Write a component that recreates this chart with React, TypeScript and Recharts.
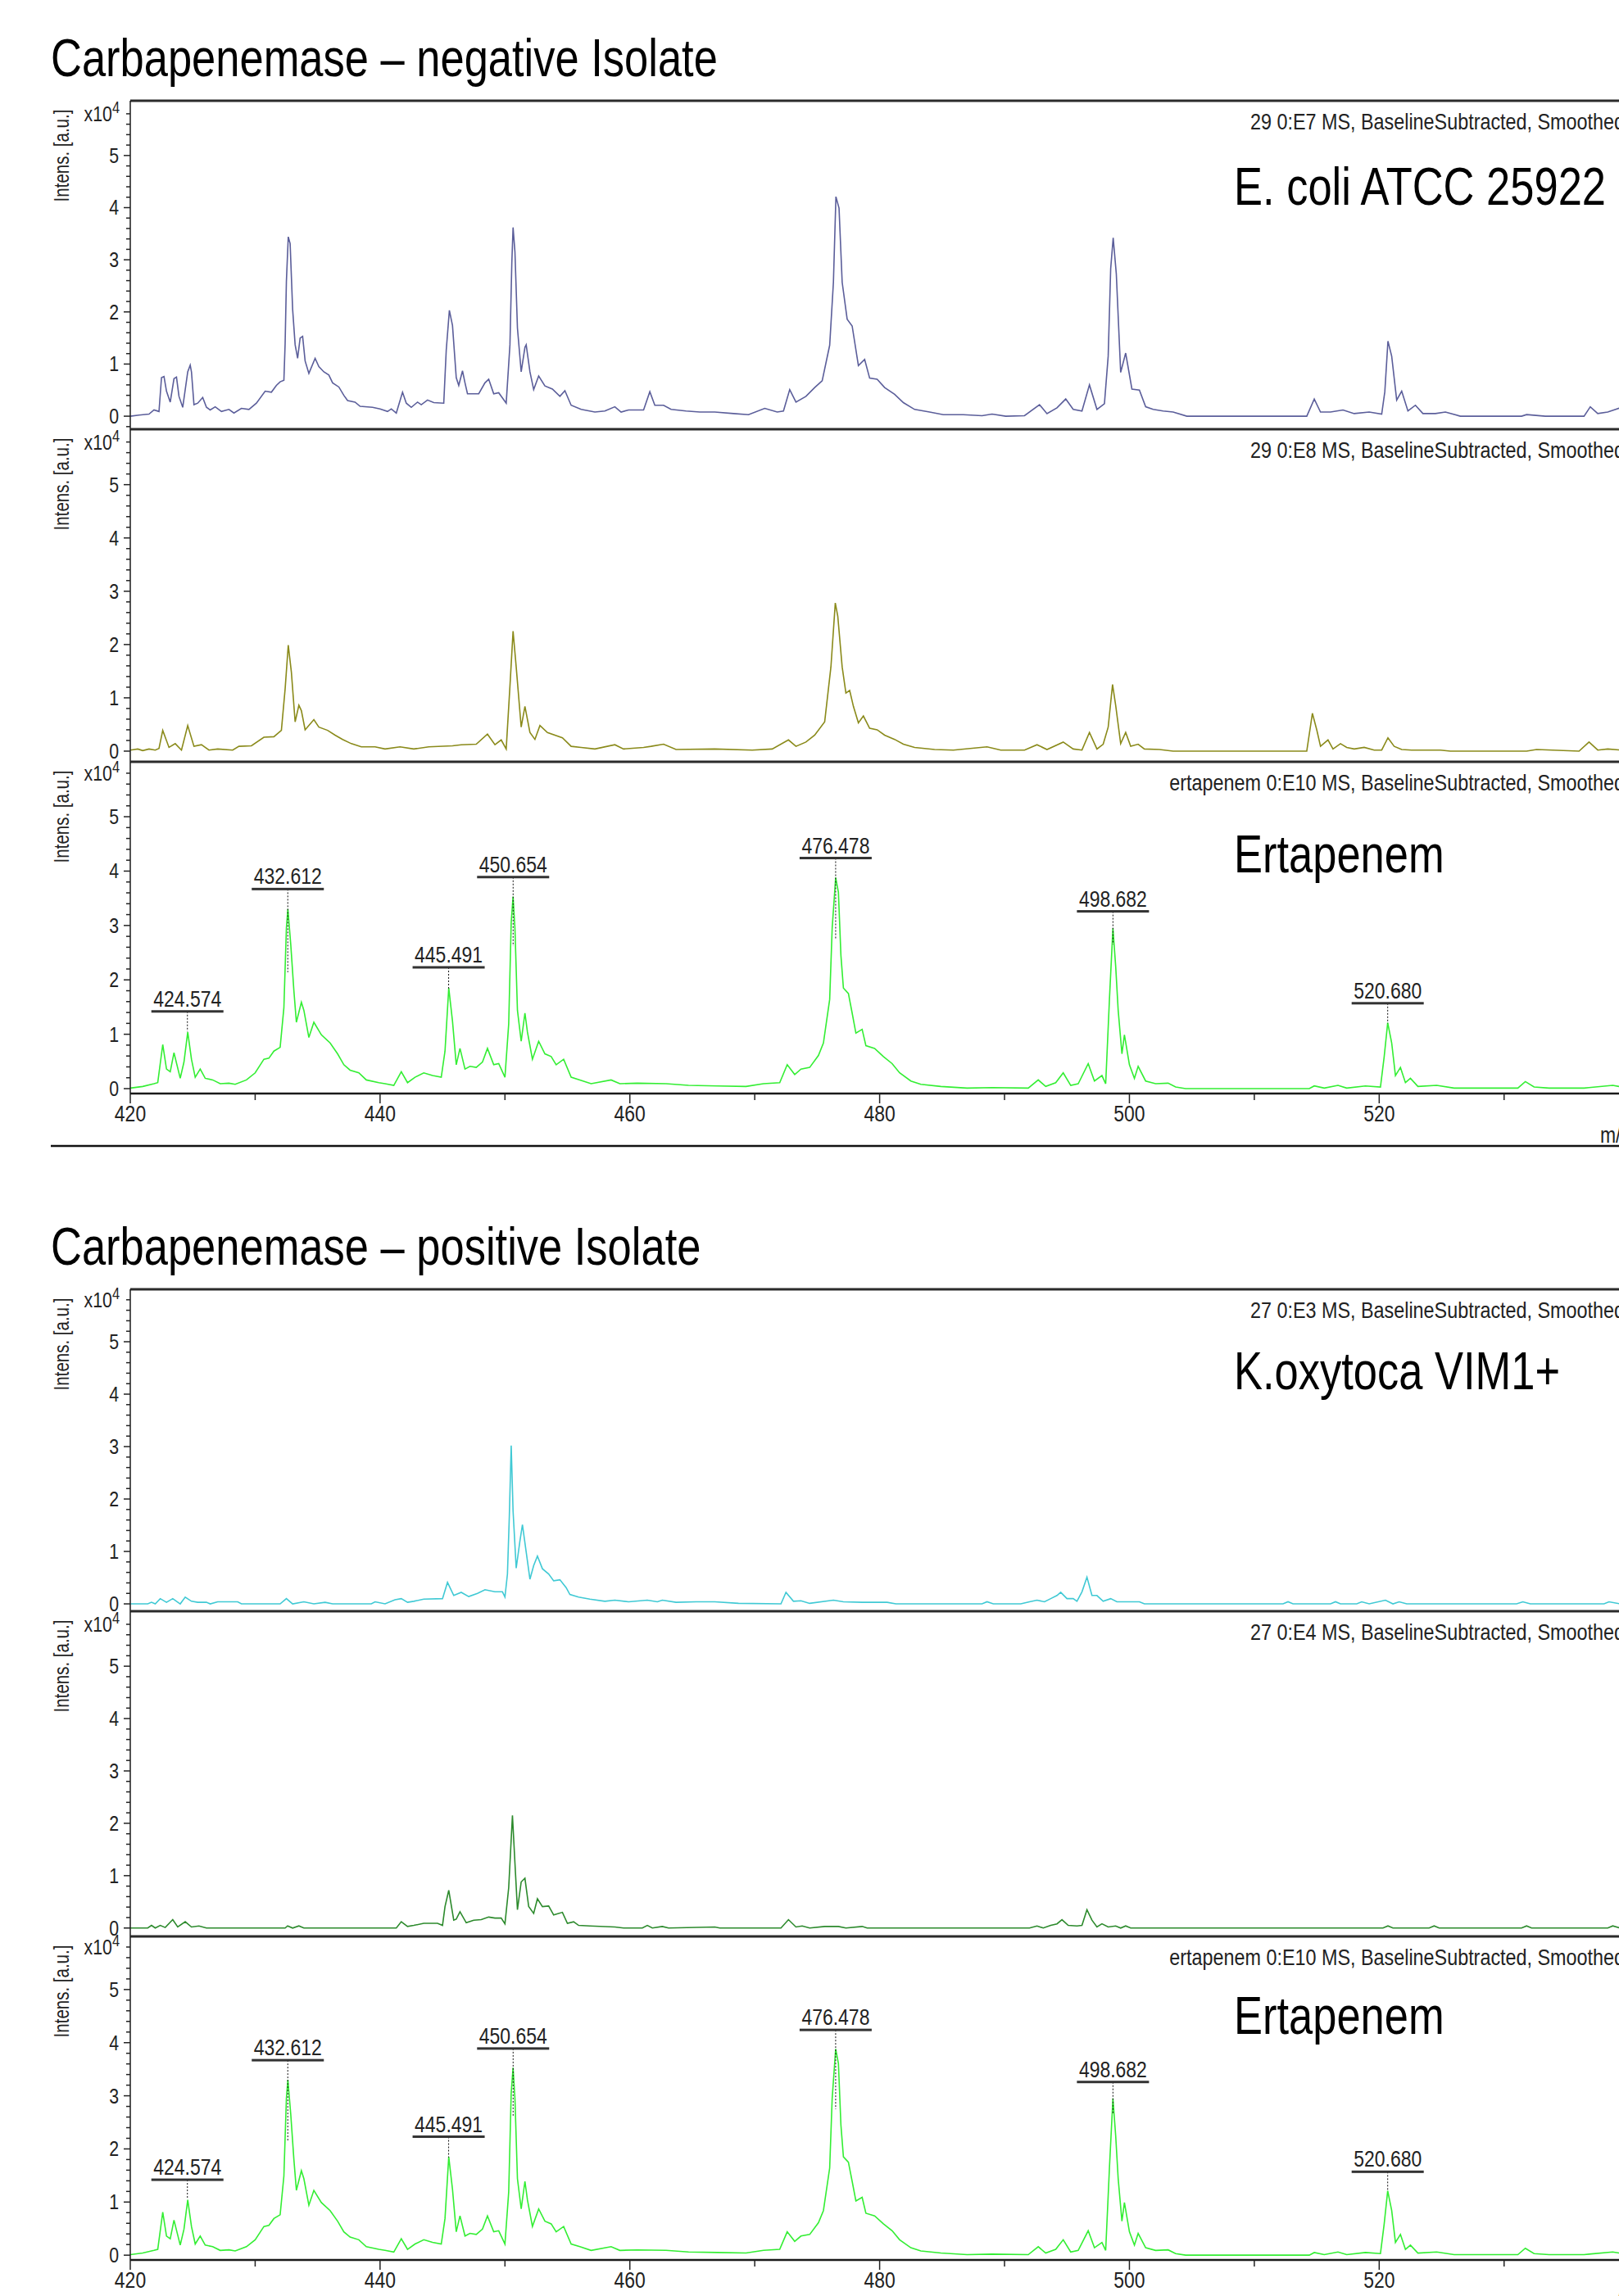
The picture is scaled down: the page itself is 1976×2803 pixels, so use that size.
import React from "react";
import { LineChart, Line, XAxis, YAxis, ReferenceLine, ReferenceDot } from "recharts";

const FONT = "'Liberation Sans', Arial, sans-serif";
const NARROW = 0.82;

// [m/z, intensity x10^4]
const ecoliE7: [number, number][] = [
  [420.0, 0.0], [420.7, 0.02], [421.5, 0.04], [421.9, 0.12], [422.3, 0.09], [422.5, 0.74], [422.7, 0.76], [422.9, 0.48],
  [423.2, 0.27], [423.5, 0.72], [423.7, 0.75], [423.9, 0.38], [424.2, 0.17], [424.6, 0.85], [424.8, 0.98], [424.9, 0.85],
  [425.1, 0.22], [425.4, 0.25], [425.8, 0.36], [426.1, 0.17], [426.4, 0.12], [426.8, 0.18], [427.3, 0.09], [427.9, 0.13],
  [428.3, 0.06], [428.9, 0.15], [429.5, 0.13], [430.1, 0.25], [430.8, 0.48], [431.3, 0.46], [431.7, 0.59], [432.0, 0.66],
  [432.3, 0.69], [432.4, 1.4], [432.5, 2.58], [432.65, 3.44], [432.8, 3.31], [433.0, 2.05], [433.2, 1.37], [433.4, 1.11],
  [433.6, 1.5], [433.8, 1.53], [434.0, 1.06], [434.3, 0.82], [434.8, 1.11], [435.1, 0.95], [435.5, 0.85], [435.9, 0.79],
  [436.2, 0.64], [436.7, 0.56], [437.1, 0.4], [437.4, 0.3], [438.0, 0.27], [438.4, 0.19], [439.4, 0.17], [440.0, 0.14],
  [440.6, 0.09], [440.9, 0.14], [441.3, 0.06], [441.8, 0.46], [442.1, 0.25], [442.5, 0.17], [443.0, 0.27], [443.3, 0.22],
  [443.8, 0.31], [444.3, 0.26], [445.1, 0.25], [445.3, 1.27], [445.55, 2.03], [445.8, 1.74], [446.1, 0.74], [446.3, 0.59],
  [446.6, 0.87], [446.8, 0.64], [447.0, 0.43], [447.5, 0.43], [447.9, 0.43], [448.4, 0.64], [448.7, 0.71], [449.1, 0.43],
  [449.5, 0.45], [450.1, 0.25], [450.4, 1.37], [450.55, 2.94], [450.65, 3.62], [450.8, 3.15], [451.0, 1.69], [451.3, 0.85],
  [451.6, 1.32], [451.7, 1.37], [452.0, 0.85], [452.3, 0.51], [452.7, 0.77], [453.2, 0.58], [453.8, 0.52], [454.4, 0.38],
  [454.8, 0.49], [455.3, 0.21], [456.1, 0.13], [457.2, 0.08], [458.0, 0.1], [458.8, 0.18], [459.3, 0.08], [459.9, 0.12],
  [461.1, 0.12], [461.6, 0.47], [462.0, 0.21], [462.7, 0.21], [463.3, 0.13], [464.5, 0.1], [465.6, 0.08], [466.8, 0.08],
  [468.3, 0.05], [469.5, 0.03], [470.8, 0.15], [471.8, 0.08], [472.3, 0.1], [472.8, 0.51], [473.3, 0.27], [474.1, 0.38],
  [474.8, 0.55], [475.4, 0.68], [476.0, 1.36], [476.3, 2.57], [476.5, 4.21], [476.75, 3.99], [477.0, 2.57], [477.4, 1.86],
  [477.8, 1.73], [478.3, 0.97], [478.8, 1.09], [479.2, 0.73], [479.8, 0.71], [480.4, 0.55], [481.2, 0.42], [481.9, 0.26],
  [482.8, 0.13], [484.0, 0.08], [485.1, 0.03], [486.7, 0.03], [488.2, 0.01], [489.0, 0.04], [490.1, 0.0], [491.6, 0.01],
  [492.8, 0.22], [493.4, 0.05], [494.2, 0.16], [494.9, 0.33], [495.5, 0.13], [496.2, 0.1], [496.8, 0.6], [497.4, 0.13],
  [498.0, 0.24], [498.3, 1.15], [498.5, 2.83], [498.7, 3.42], [498.95, 2.73], [499.3, 0.84], [499.7, 1.21], [500.2, 0.52],
  [500.8, 0.5], [501.3, 0.18], [501.9, 0.13], [502.7, 0.1], [503.5, 0.08], [504.6, 0.0], [514.2, 0.0], [514.8, 0.33],
  [515.3, 0.08], [516.1, 0.08], [517.1, 0.12], [518.0, 0.05], [519.2, 0.08], [520.2, 0.04], [520.45, 0.47], [520.7, 1.44],
  [521.0, 1.15], [521.4, 0.31], [521.8, 0.48], [522.3, 0.1], [522.9, 0.21], [523.5, 0.05], [524.5, 0.05], [525.3, 0.08],
  [526.5, 0.0], [531.4, 0.0], [531.8, 0.03], [533.3, 0.0], [536.4, 0.0], [536.9, 0.18], [537.5, 0.05], [538.3, 0.08],
  [539.3, 0.16],
];

const ecoliE8: [number, number][] = [
  [420.0, 0.02], [420.6, 0.04], [421.0, 0.01], [421.5, 0.04], [422.0, 0.02], [422.3, 0.05], [422.6, 0.39], [423.1, 0.07],
  [423.6, 0.14], [424.1, 0.02], [424.6, 0.48], [425.1, 0.09], [425.7, 0.12], [426.3, 0.02], [427.0, 0.04], [428.2, 0.02],
  [428.7, 0.09], [429.7, 0.1], [430.7, 0.26], [431.5, 0.27], [432.1, 0.39], [432.4, 1.17], [432.65, 1.99], [432.9, 1.48],
  [433.2, 0.55], [433.5, 0.86], [433.7, 0.76], [434.0, 0.4], [434.7, 0.59], [435.1, 0.45], [435.8, 0.39], [436.4, 0.3],
  [437.0, 0.22], [437.7, 0.14], [438.5, 0.08], [439.6, 0.08], [440.4, 0.04], [441.6, 0.08], [442.7, 0.04], [443.9, 0.08],
  [445.8, 0.1], [446.5, 0.12], [447.7, 0.13], [448.6, 0.32], [449.2, 0.12], [449.7, 0.21], [450.1, 0.04], [450.4, 1.22],
  [450.65, 2.25], [450.9, 1.58], [451.3, 0.45], [451.6, 0.84], [452.0, 0.35], [452.4, 0.22], [452.8, 0.48], [453.4, 0.35],
  [454.6, 0.25], [455.3, 0.09], [456.1, 0.07], [457.2, 0.04], [458.8, 0.12], [459.5, 0.04], [461.1, 0.07], [461.7, 0.09],
  [462.7, 0.13], [463.7, 0.03], [466.8, 0.04], [469.8, 0.02], [471.4, 0.04], [472.7, 0.21], [473.3, 0.09], [474.1, 0.17],
  [474.8, 0.3], [475.6, 0.55], [476.1, 1.58], [476.45, 2.78], [476.65, 2.53], [477.0, 1.58], [477.3, 1.09], [477.6, 1.14],
  [477.9, 0.84], [478.3, 0.53], [478.7, 0.66], [479.2, 0.43], [479.8, 0.4], [480.4, 0.3], [481.2, 0.22], [481.9, 0.13],
  [482.8, 0.07], [484.4, 0.03], [485.9, 0.02], [488.6, 0.08], [489.7, 0.02], [491.6, 0.02], [492.6, 0.12], [493.4, 0.03],
  [494.7, 0.17], [495.5, 0.04], [496.2, 0.02], [496.8, 0.35], [497.4, 0.04], [497.9, 0.13], [498.3, 0.45], [498.65, 1.25],
  [498.9, 0.86], [499.3, 0.14], [499.7, 0.35], [500.1, 0.09], [500.7, 0.13], [501.2, 0.04], [502.4, 0.03], [503.5, 0.0],
  [514.2, 0.0], [514.65, 0.71], [515.0, 0.4], [515.3, 0.09], [515.9, 0.21], [516.3, 0.04], [516.9, 0.14], [517.4, 0.07],
  [518.0, 0.04], [518.8, 0.07], [519.6, 0.02], [520.2, 0.02], [520.7, 0.25], [521.2, 0.09], [521.8, 0.03], [522.6, 0.02],
  [524.9, 0.02], [525.7, 0.0], [531.8, 0.0], [532.6, 0.03], [536.0, 0.0], [536.8, 0.17], [537.5, 0.02], [538.3, 0.04],
  [539.3, 0.02],
];

const ertapenemE10: [number, number][] = [
  [420.0, 0.01], [421.0, 0.04], [421.9, 0.09], [422.2, 0.11], [422.6, 0.81], [422.9, 0.36], [423.2, 0.31], [423.5, 0.66],
  [424.0, 0.19], [424.3, 0.49], [424.6, 1.04], [424.9, 0.54], [425.2, 0.21], [425.6, 0.36], [426.0, 0.19], [426.6, 0.16],
  [427.2, 0.09], [427.9, 0.1], [428.4, 0.08], [429.3, 0.16], [430.0, 0.29], [430.7, 0.54], [431.1, 0.56], [431.5, 0.69],
  [432.0, 0.76], [432.3, 1.49], [432.5, 2.95], [432.62, 3.3], [432.85, 2.65], [433.1, 1.8], [433.3, 1.22], [433.7, 1.59],
  [433.9, 1.44], [434.3, 0.94], [434.7, 1.22], [435.3, 0.99], [436.0, 0.84], [436.6, 0.64], [437.1, 0.44], [437.6, 0.34],
  [438.3, 0.29], [438.9, 0.16], [439.9, 0.11], [440.4, 0.09], [441.1, 0.06], [441.7, 0.31], [442.2, 0.11], [442.8, 0.21],
  [443.5, 0.29], [444.2, 0.24], [444.9, 0.21], [445.2, 0.69], [445.5, 1.85], [445.8, 1.24], [446.1, 0.44], [446.4, 0.74],
  [446.8, 0.36], [447.2, 0.41], [447.7, 0.39], [448.2, 0.49], [448.6, 0.74], [449.1, 0.44], [449.5, 0.46], [450.0, 0.21],
  [450.3, 1.19], [450.5, 3.05], [450.65, 3.53], [450.8, 2.95], [451.0, 1.44], [451.3, 0.87], [451.6, 1.39], [451.8, 1.04],
  [452.2, 0.54], [452.7, 0.87], [453.2, 0.64], [453.7, 0.59], [454.1, 0.44], [454.7, 0.54], [455.3, 0.21], [456.0, 0.16],
  [456.9, 0.09], [458.5, 0.16], [459.2, 0.09], [460.6, 0.1], [462.9, 0.09], [464.7, 0.06], [467.0, 0.05], [469.3, 0.04],
  [470.7, 0.09], [472.0, 0.11], [472.6, 0.44], [473.2, 0.26], [473.7, 0.36], [474.4, 0.39], [475.1, 0.61], [475.5, 0.84],
  [476.0, 1.64], [476.2, 2.95], [476.48, 3.88], [476.7, 3.61], [476.9, 2.45], [477.1, 1.85], [477.5, 1.75], [477.8, 1.39],
  [478.1, 1.02], [478.6, 1.09], [478.9, 0.79], [479.6, 0.74], [480.3, 0.59], [481.0, 0.46], [481.6, 0.29], [482.5, 0.14],
  [483.3, 0.08], [484.9, 0.04], [487.0, 0.01], [489.0, 0.02], [491.9, 0.01], [492.7, 0.16], [493.3, 0.04], [494.1, 0.11],
  [494.7, 0.29], [495.3, 0.06], [495.9, 0.09], [496.7, 0.46], [497.2, 0.14], [497.8, 0.24], [498.1, 0.09], [498.4, 1.64],
  [498.68, 2.95], [498.9, 2.25], [499.1, 1.44], [499.4, 0.64], [499.6, 0.99], [500.0, 0.44], [500.4, 0.19], [500.7, 0.41],
  [501.3, 0.14], [502.1, 0.09], [503.1, 0.1], [503.7, 0.03], [504.5, 0.0], [514.4, 0.0], [514.8, 0.05], [515.6, 0.01],
  [516.7, 0.06], [517.4, 0.01], [518.9, 0.05], [520.1, 0.03], [520.4, 0.59], [520.68, 1.21], [521.0, 0.84], [521.3, 0.24],
  [521.7, 0.39], [522.1, 0.11], [522.5, 0.19], [523.1, 0.04], [524.6, 0.06], [526.0, 0.01], [531.1, 0.01], [531.7, 0.13],
  [532.4, 0.03], [533.6, 0.01], [536.4, 0.01], [536.8, 0.02], [538.7, 0.06], [539.2, 0.04],
];

const koxyE3: [number, number][] = [
  [420.0, 0.0], [421.4, 0.0], [421.7, 0.03], [422.0, 0.0], [422.4, 0.1], [422.9, 0.03], [423.4, 0.1], [424.0, 0.0],
  [424.4, 0.13], [424.9, 0.05], [425.4, 0.03], [426.1, 0.03], [426.4, 0.0], [427.0, 0.04], [428.6, 0.04], [428.9, 0.0],
  [432.0, 0.0], [432.5, 0.1], [433.0, 0.0], [433.9, 0.04], [434.7, 0.0], [435.6, 0.03], [436.2, 0.0], [439.3, 0.0],
  [439.6, 0.04], [440.4, 0.0], [441.2, 0.08], [441.7, 0.1], [442.2, 0.03], [442.7, 0.05], [443.5, 0.09], [445.0, 0.1],
  [445.4, 0.41], [445.9, 0.16], [446.5, 0.22], [447.1, 0.14], [447.8, 0.2], [448.4, 0.27], [449.2, 0.23], [449.8, 0.23],
  [450.0, 0.13], [450.2, 0.57], [450.35, 1.67], [450.5, 3.02], [450.65, 1.77], [450.9, 0.68], [451.2, 1.2], [451.4, 1.51],
  [451.7, 0.99], [452.0, 0.47], [452.3, 0.73], [452.6, 0.91], [453.0, 0.67], [453.5, 0.57], [453.9, 0.44], [454.4, 0.46],
  [454.9, 0.31], [455.2, 0.18], [455.9, 0.13], [456.8, 0.09], [458.0, 0.05], [458.8, 0.07], [459.9, 0.04], [461.4, 0.07],
  [462.2, 0.04], [462.6, 0.07], [463.7, 0.03], [465.3, 0.04], [466.8, 0.04], [468.7, 0.01], [472.1, 0.0], [472.5, 0.22],
  [473.1, 0.05], [473.7, 0.06], [474.4, 0.01], [476.3, 0.07], [477.1, 0.04], [478.6, 0.03], [480.6, 0.03], [481.3, 0.0],
  [488.2, 0.0], [488.6, 0.04], [489.1, 0.0], [491.3, 0.0], [492.0, 0.04], [492.6, 0.07], [493.2, 0.04], [493.7, 0.1],
  [494.2, 0.16], [494.5, 0.22], [495.0, 0.1], [495.5, 0.1], [495.8, 0.05], [496.2, 0.23], [496.6, 0.51], [497.0, 0.16],
  [497.4, 0.16], [497.9, 0.05], [498.5, 0.1], [499.0, 0.04], [500.8, 0.04], [501.2, 0.0], [512.3, 0.0], [512.7, 0.04],
  [513.1, 0.0], [516.1, 0.0], [516.5, 0.04], [516.9, 0.0], [518.2, 0.0], [518.6, 0.04], [519.2, 0.0], [520.5, 0.07],
  [521.1, 0.0], [521.6, 0.04], [522.2, 0.0], [531.0, 0.0], [531.5, 0.04], [532.1, 0.0], [538.0, 0.0], [538.4, 0.04],
  [539.3, 0.0],
];

const koxyE4: [number, number][] = [
  [420.0, 0.0], [421.4, 0.0], [421.7, 0.05], [422.0, 0.0], [422.4, 0.05], [422.8, 0.01], [423.4, 0.16], [423.8, 0.02],
  [424.4, 0.12], [424.9, 0.02], [425.5, 0.04], [426.1, 0.0], [432.4, 0.0], [432.6, 0.04], [433.0, 0.0], [433.5, 0.04],
  [433.9, 0.0], [441.3, 0.0], [441.7, 0.12], [442.2, 0.03], [442.7, 0.05], [443.5, 0.09], [444.6, 0.09], [445.0, 0.05],
  [445.2, 0.41], [445.5, 0.72], [445.9, 0.15], [446.1, 0.17], [446.4, 0.31], [446.9, 0.1], [447.5, 0.15], [448.1, 0.16],
  [448.7, 0.21], [449.2, 0.19], [449.7, 0.19], [450.0, 0.08], [450.3, 0.77], [450.6, 2.15], [450.8, 1.24], [451.0, 0.35],
  [451.3, 0.88], [451.6, 0.95], [451.9, 0.41], [452.3, 0.28], [452.6, 0.56], [453.0, 0.41], [453.5, 0.42], [453.9, 0.25],
  [454.6, 0.3], [455.0, 0.09], [455.5, 0.12], [455.9, 0.05], [456.8, 0.04], [458.8, 0.02], [459.5, 0.0], [461.0, 0.0],
  [461.4, 0.05], [461.8, 0.0], [462.6, 0.03], [463.1, 0.0], [466.8, 0.02], [467.2, 0.0], [472.1, 0.0], [472.7, 0.16],
  [473.3, 0.02], [473.8, 0.04], [474.4, 0.0], [475.6, 0.03], [476.7, 0.03], [477.3, 0.0], [478.6, 0.03], [479.0, 0.0],
  [492.0, 0.0], [492.6, 0.04], [493.1, 0.0], [493.7, 0.05], [494.2, 0.08], [494.6, 0.16], [495.1, 0.05], [495.8, 0.04],
  [496.2, 0.05], [496.6, 0.35], [497.0, 0.15], [497.4, 0.02], [497.8, 0.08], [498.3, 0.02], [498.9, 0.04], [499.3, 0.0],
  [499.7, 0.04], [500.1, 0.0], [520.3, 0.0], [520.7, 0.04], [521.1, 0.0], [524.0, 0.0], [524.4, 0.04], [524.8, 0.0],
  [531.4, 0.0], [531.8, 0.04], [532.2, 0.0], [538.3, 0.0], [538.7, 0.04], [539.3, 0.0],
];

// labelled peaks of the ertapenem spectrum: m/z, label bar level, end of the dotted drop line
const peakMz = [424.574, 432.612, 445.491, 450.654, 476.478, 498.682, 520.68];
const peakBar = [1.42, 3.67, 2.23, 3.89, 4.24, 3.26, 1.57];
const peakDotEnd = [1.05, 2.14, 1.84, 2.62, 2.75, 2.65, 1.2];

const xTicks = [420, 430, 440, 450, 460, 470, 480, 490, 500, 510, 520, 530];
const yTicks = [
  -0.2, 0, 0.2, 0.4, 0.6, 0.8, 1, 1.2, 1.4, 1.6, 1.8, 2, 2.2, 2.4, 2.6, 2.8, 3, 3.2, 3.4, 3.6, 3.8, 4,
  4.2, 4.4, 4.6, 4.8, 5, 5.2, 5.4, 5.6, 5.8,
];

const X_MAX = 539.2;

const panels = [
  { data: ecoliE7, color: "#5b5e9a", top: 123, bottom: 524, yMin: -0.25, yMax: 6.05, header: "29 0:E7 MS, BaselineSubtracted, Smoothed" },
  { data: ecoliE8, color: "#8a8a1a", top: 524, bottom: 930, yMin: -0.2, yMax: 6.04, header: "29 0:E8 MS, BaselineSubtracted, Smoothed" },
  { data: ertapenemE10, color: "#33ee33", top: 930, bottom: 1335, yMin: -0.09, yMax: 6.01, header: "ertapenem 0:E10 MS, BaselineSubtracted, Smoothed", peaks: true, xAxis: true },
  { data: koxyE3, color: "#40c9d4", top: 1574, bottom: 1967, yMin: -0.14, yMax: 6.0, header: "27 0:E3 MS, BaselineSubtracted, Smoothed" },
  { data: koxyE4, color: "#2c8a2c", top: 1967, bottom: 2364, yMin: -0.16, yMax: 6.05, header: "27 0:E4 MS, BaselineSubtracted, Smoothed" },
  { data: ertapenemE10, color: "#33ee33", top: 2364, bottom: 2759, yMin: -0.09, yMax: 6.0, header: "ertapenem 0:E10 MS, BaselineSubtracted, Smoothed", peaks: true, xAxis: true },
];

const bigLabels = [
  { text: "E. coli ATCC 25922", y: 250 },
  { text: "Ertapenem", y: 1065 },
  { text: "K.oxytoca VIM1+", y: 1696 },
  { text: "Ertapenem", y: 2483 },
];

// condensed text: regular sans squeezed horizontally, like Arial Narrow
function NText({ x, y, size, anchor = "start", fill = "#222", rotate = 0, children }: any) {
  return (
    <g transform={`translate(${x},${y}) rotate(${rotate}) scale(${NARROW},1)`}>
      <text x={0} y={0} fontSize={size} textAnchor={anchor} fill={fill} fontFamily={FONT}>
        {children}
      </text>
    </g>
  );
}

function YTick(props: any) {
  const { x, y, payload } = props;
  const v = payload.value;
  const major = Number.isInteger(v);
  return (
    <g>
      <line x1={x - (major ? 8 : 5)} x2={x} y1={y} y2={y} stroke="#222" strokeWidth={1.5} />
      {major && (
        <NText x={x - 14} y={y + 9} size={26} anchor="end">
          {v}
        </NText>
      )}
      {v === 5.8 && (
        <NText x={x - 13} y={y + 9} size={26} anchor="end">
          x10<tspan dy={-10} fontSize={20}>4</tspan>
        </NText>
      )}
    </g>
  );
}

function XTick(props: any) {
  const { x, y, payload } = props;
  const v = payload.value;
  const major = v % 20 === 0;
  return (
    <g>
      <line x1={x} x2={x} y1={y} y2={y + (major ? 12 : 8)} stroke="#222" strokeWidth={1.5} />
      {major && (
        <NText x={x} y={y + 34} size={28} anchor="middle">
          {v}
        </NText>
      )}
    </g>
  );
}

function PeakLabel(props: any) {
  const { cx, cy, text } = props;
  return (
    <g>
      <NText x={cx} y={cy - 6} size={28} anchor="middle">
        {text}
      </NText>
      <rect x={cx - 44} y={cy - 1.5} width={88} height={3} fill="#333" />
    </g>
  );
}

function Panel({ p }: { p: any }) {
  const rows = p.data.map(([mz, v]: [number, number]) => ({ mz, v }));
  const pad = 22;
  const axisH = p.xAxis ? 60 : 0;
  const padBottom = p.xAxis ? 0 : 12;
  const ticks = yTicks.filter((t) => t > p.yMin + 0.01 && t < p.yMax);
  return (
    <div style={{ position: "absolute", left: 0, top: p.top - pad }}>
      <LineChart
        width={1976}
        height={p.bottom - p.top + pad + axisH + padBottom}
        data={rows}
        margin={{ top: pad, right: 0, bottom: padBottom, left: 0 }}
      >
        <XAxis
          dataKey="mz"
          type="number"
          domain={[420, X_MAX]}
          allowDataOverflow
          ticks={xTicks}
          interval={0}
          hide={!p.xAxis}
          height={axisH}
          tickLine={false}
          tickSize={0}
          tickMargin={0}
          tick={(t: any) => <XTick {...t} />}
          axisLine={{ stroke: "#1a1a1a", strokeWidth: 2.5 }}
        />
        <YAxis
          type="number"
          domain={[p.yMin, p.yMax]}
          allowDataOverflow
          ticks={ticks}
          interval={0}
          width={159}
          tickLine={false}
          tickSize={0}
          tickMargin={0}
          tick={(t: any) => <YTick {...t} />}
          axisLine={{ stroke: "#1a1a1a", strokeWidth: 1.5 }}
        />
        <ReferenceLine y={p.yMax} stroke="#2b2b2b" strokeWidth={3} />
        <Line
          type="linear"
          dataKey="v"
          stroke={p.color}
          strokeWidth={1.6}
          dot={false}
          isAnimationActive={false}
        />
        {p.peaks &&
          peakMz.map((mz, i) => (
            <ReferenceLine
              key={"d" + i}
              segment={[
                { x: mz, y: peakBar[i] },
                { x: mz, y: peakDotEnd[i] },
              ]}
              stroke="#111"
              strokeWidth={1}
              strokeDasharray="2 2"
            />
          ))}
        {p.peaks &&
          peakMz.map((mz, i) => (
            <ReferenceDot
              key={"l" + i}
              x={mz}
              y={peakBar[i]}
              r={0}
              shape={(s: any) => <PeakLabel {...s} text={mz.toFixed(3)} />}
            />
          ))}
      </LineChart>
    </div>
  );
}

export default function App() {
  return (
    <div
      style={{
        position: "absolute",
        left: 0,
        top: 0,
        width: 1976,
        height: 2803,
        overflow: "hidden",
        background: "#fff",
      }}
    >
      {panels.map((p, i) => (
        <Panel key={i} p={p} />
      ))}
      <svg
        width={1976}
        height={2803}
        style={{ position: "absolute", left: 0, top: 0, pointerEvents: "none" }}
      >
        <NText x={62} y={93} size={64} fill="#000">
          Carbapenemase – negative Isolate
        </NText>
        <NText x={62} y={1544} size={64} fill="#000">
          Carbapenemase – positive Isolate
        </NText>
        <line x1={62} x2={1976} y1={1399} y2={1399} stroke="#111" strokeWidth={2.5} />
        <NText x={1953} y={1395} size={28}>m/z</NText>
        <NText x={1953} y={2819} size={28}>m/z</NText>
        {panels.map((p, i) => (
          <g key={i}>
            <NText x={1983} y={p.top + 35} size={28.5} anchor="end">
              {p.header}
            </NText>
            <NText x={84} y={p.top + 67} size={25} anchor="middle" rotate={-90}>
              Intens. [a.u.]
            </NText>
          </g>
        ))}
        {bigLabels.map((b, i) => (
          <NText key={i} x={1506} y={b.y} size={64} fill="#000">
            {b.text}
          </NText>
        ))}
      </svg>
    </div>
  );
}
